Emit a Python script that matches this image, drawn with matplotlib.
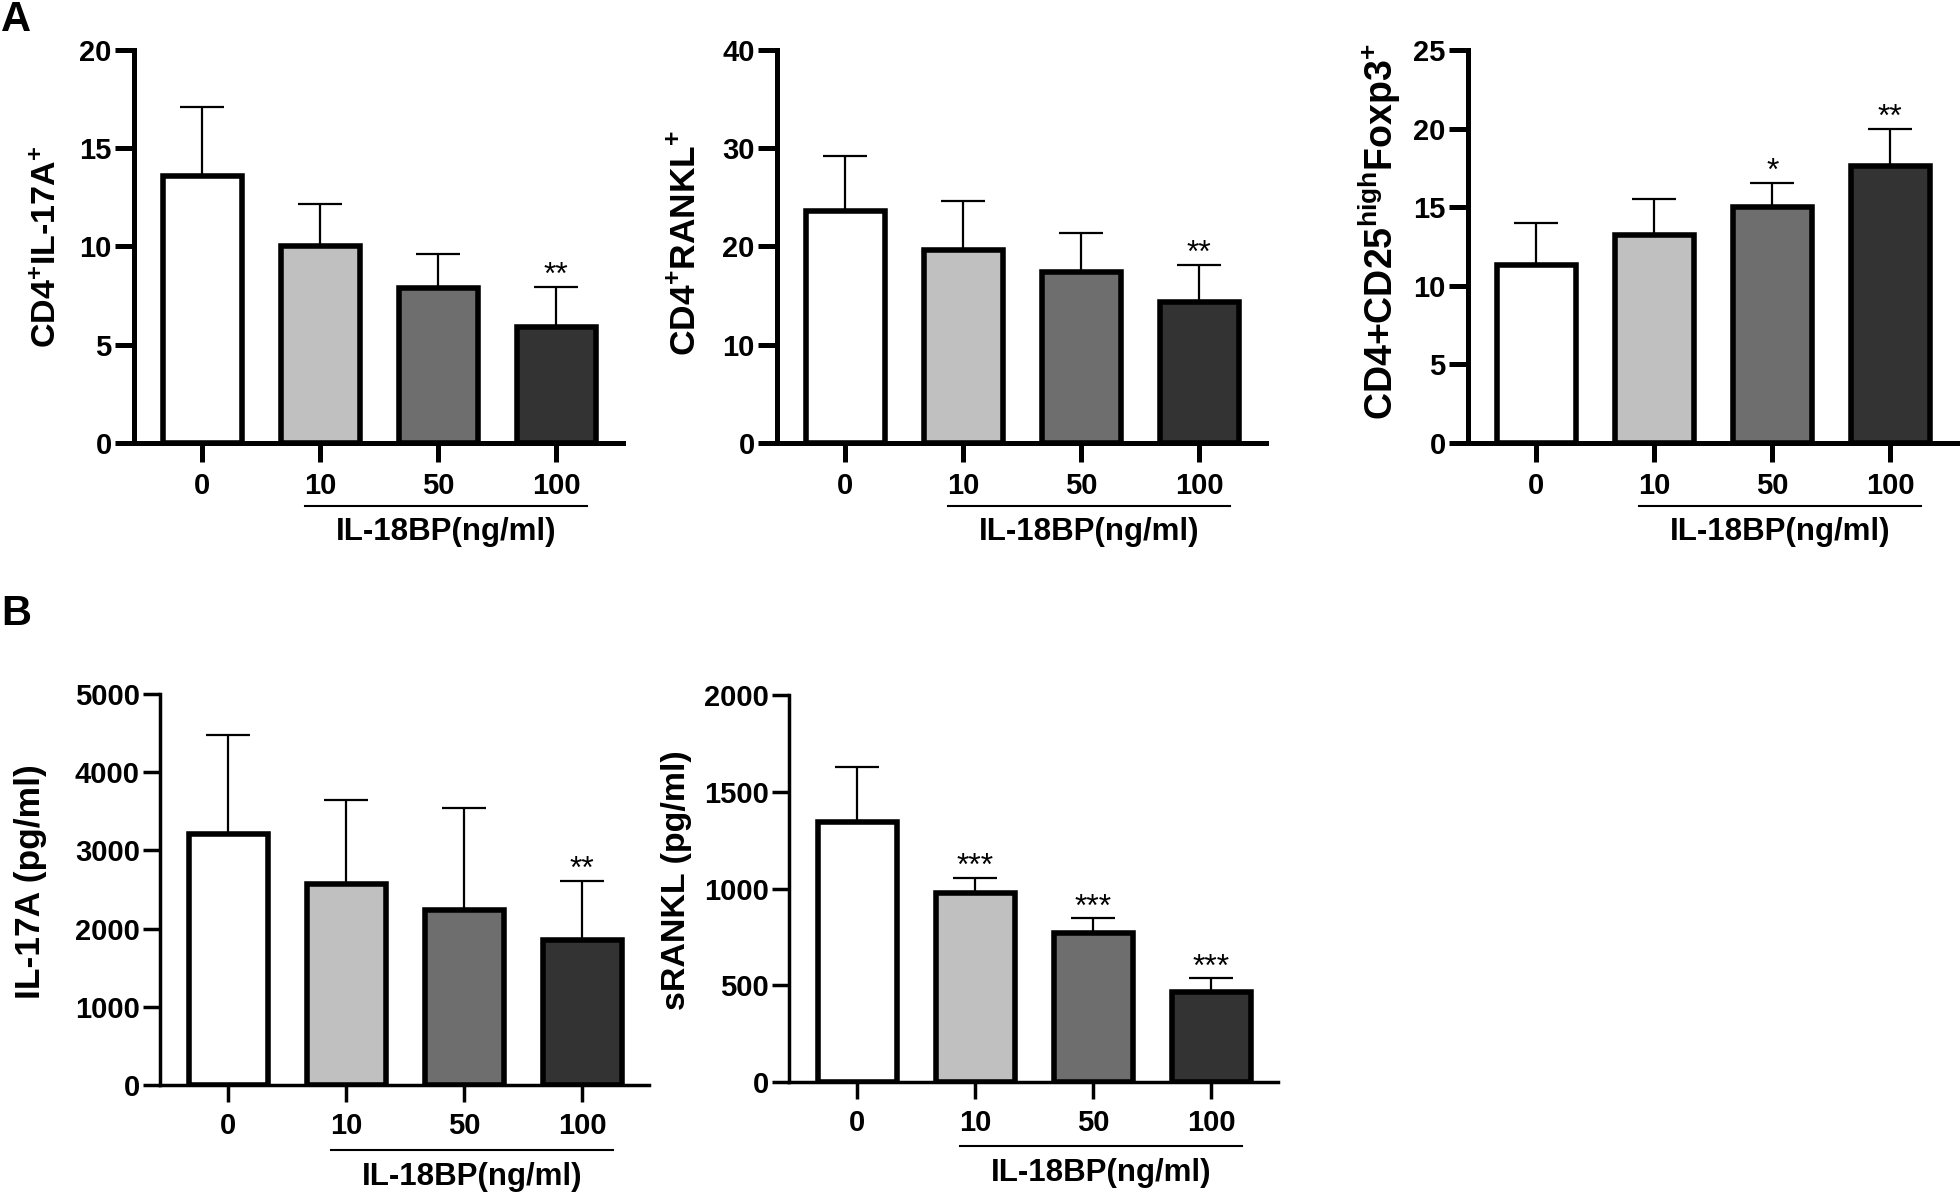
import matplotlib
matplotlib.use('Agg')
import matplotlib.pyplot as plt
from matplotlib.transforms import blended_transform_factory

plt.rcParams['font.family'] = ['Liberation Sans', 'DejaVu Sans']
plt.rcParams['font.weight'] = 'bold'
plt.rcParams['mathtext.fontset'] = 'custom'
plt.rcParams['mathtext.rm'] = 'Liberation Sans:bold'
plt.rcParams['mathtext.it'] = 'Liberation Sans:bold'
plt.rcParams['mathtext.bf'] = 'Liberation Sans:bold'

# ---------------- data ----------------
categories = ['0', '10', '50', '100']
bar_colors = ['#ffffff', '#c0c0c0', '#6e6e6e', '#333333']
group_label = 'IL-18BP(ng/ml)'

a1_label = r'CD4$^{+}$IL-17A$^{+}$'
a1_mean = [13.6, 10.0, 7.9, 5.9]
a1_sd = [3.5, 2.15, 1.7, 2.05]
a1_sig = ['', '', '', '**']
a1_yticks = [0, 5, 10, 15, 20]

a2_label = r'CD4$^{+}$RANKL$^{+}$'
a2_mean = [23.6, 19.6, 17.4, 14.4]
a2_sd = [5.6, 5.0, 4.0, 3.7]
a2_sig = ['', '', '', '**']
a2_yticks = [0, 10, 20, 30, 40]

a3_label = r'CD4+CD25$^{\mathrm{high}}$Foxp3$^{+}$'
a3_mean = [11.3, 13.2, 15.0, 17.6]
a3_sd = [2.7, 2.35, 1.55, 2.4]
a3_sig = ['', '', '*', '**']
a3_yticks = [0, 5, 10, 15, 20, 25]

b1_label = 'IL-17A (pg/ml)'
b1_mean = [3205, 2564, 2239, 1859]
b1_sd = [1277, 1080, 1306, 749]
b1_sig = ['', '', '', '**']
b1_yticks = [0, 1000, 2000, 3000, 4000, 5000]

b2_label = 'sRANKL (pg/ml)'
b2_mean = [1345, 976, 769, 463]
b2_sd = [284, 79, 77, 73]
b2_sig = ['', '***', '***', '***']
b2_yticks = [0, 500, 1000, 1500, 2000]

# ---------------- figure ----------------
W, H = 1960, 1196
fig = plt.figure(figsize=(W / 100, H / 100), dpi=100)


def make_panel(box, mean, sd, sig, yticks, ylabel, ylab_xy, ylab_fs,
               spine_w, tick_len, ulab_y, glab_y):
    x0, x1, y0, y1 = box
    ax = fig.add_axes([x0 / W, 1 - y1 / H, (x1 - x0) / W, (y1 - y0) / H])
    xs = list(range(len(categories)))
    ax.bar(xs, mean, width=0.67, color=bar_colors, edgecolor='black',
           linewidth=4.0, zorder=3)
    ax.errorbar(xs, mean, yerr=[[0] * len(mean), sd], fmt='none',
                ecolor='black', elinewidth=1.6, capsize=16, capthick=1.6,
                zorder=4)
    for x, m, s, t in zip(xs, mean, sd, sig):
        if t:
            ax.annotate(t, (x, m + s), xytext=(0, 2), textcoords='offset points',
                        ha='center', va='baseline', fontsize=23,
                        fontweight='normal', zorder=5)
    ax.set_xlim(-0.58, 3.565)
    ax.set_ylim(yticks[0], yticks[-1])
    ax.set_yticks(yticks)
    ax.set_yticklabels([str(v) for v in yticks])
    ax.set_xticks(xs)
    ax.set_xticklabels(categories)
    for s in ['top', 'right']:
        ax.spines[s].set_visible(False)
    for s in ['left', 'bottom']:
        ax.spines[s].set_linewidth(spine_w)
    ax.tick_params(axis='y', length=tick_len, width=spine_w, labelsize=21,
                   pad=2)
    ax.tick_params(axis='x', length=tick_len, width=spine_w, labelsize=21,
                   pad=7)
    trans = blended_transform_factory(ax.transData, ax.transAxes)
    ax.plot([0.87, 3.26], [ulab_y, ulab_y], transform=trans, color='black',
            lw=1.5, clip_on=False)
    ax.text(2.065, glab_y, group_label, transform=trans, ha='center',
            va='center', fontsize=22.5, fontweight='bold')
    fig.text(ylab_xy[0] / W, 1 - ylab_xy[1] / H, ylabel, rotation=90,
             ha='center', va='center', fontsize=ylab_fs, fontweight='bold')
    return ax


make_panel((134, 623, 50, 443), a1_mean, a1_sd, a1_sig, a1_yticks, a1_label,
           (48, 247), 24.5, 3.6, 14, -0.16, -0.226)
make_panel((777, 1266, 50, 443), a2_mean, a2_sd, a2_sig, a2_yticks, a2_label,
           (686, 243), 25.5, 3.6, 14, -0.16, -0.226)
make_panel((1468, 1957, 50, 443), a3_mean, a3_sd, a3_sig, a3_yticks, a3_label,
           (1380, 232), 27, 3.6, 14, -0.16, -0.226)
make_panel((160, 649, 694, 1085), b1_mean, b1_sd, b1_sig, b1_yticks, b1_label,
           (31, 882), 25.5, 2.5, 12.5, -0.166, -0.235)
make_panel((789, 1278, 695, 1082), b2_mean, b2_sd, b2_sig, b2_yticks, b2_label,
           (676, 880), 24.5, 2.5, 12.5, -0.166, -0.235)

fig.text(1 / W, 1.0, 'A', fontsize=30, fontweight='bold', ha='left', va='top')
fig.text(1 / W, 1 - 594 / H, 'B', fontsize=30, fontweight='bold', ha='left',
         va='top')

fig.savefig('out.png', dpi=100)
